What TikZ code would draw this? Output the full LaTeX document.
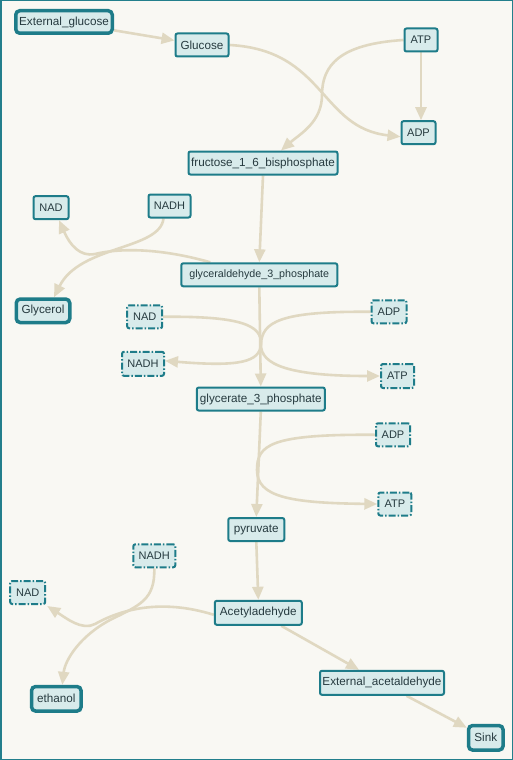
\documentclass[tikz,border=0pt]{standalone}
\usepackage{fontspec}
\setmainfont{Liberation Sans}
\usetikzlibrary{arrows.meta}
\definecolor{bgc}{HTML}{F9F8F3}
\definecolor{framec}{HTML}{237F8C}
\definecolor{fillc}{HTML}{D8EBEB}
\definecolor{bordc}{HTML}{1E7C89}
\definecolor{txtc}{HTML}{263A3F}
\definecolor{edgec}{HTML}{E0D8C1}
\pgfdeclarelayer{bg}
\pgfsetlayers{bg,main}
\tikzset{
  sz/.style 2 args={minimum width=#1pt,minimum height=#2pt},
  met/.style={rectangle,rounded corners=2pt,draw=bordc,fill=fillc,line width=2pt,
    text=txtc,inner sep=0pt,font=\fontsize{11.7}{13}\selectfont},
  extn/.style={met,line width=3.5pt,rounded corners=4pt},
  cof/.style={met,font=\fontsize{11}{13}\selectfont},
  cofd/.style={cof,dash pattern=on 7pt off 2pt on 1.5pt off 2pt},
  flow/.style={draw=edgec,line width=2.6pt,-{Triangle[length=13pt,width=11pt,fill=edgec]}},
}
\begin{document}
\begin{tikzpicture}[x=1pt,y=-1pt]
\useasboundingbox (0,0) rectangle (513,760);
% nodes
\node[extn,sz={96.5}{22.5}] (extg) at (64,22) {External\_glucose};
\node[met,sz={53}{23}] (glucose) at (202,45) {Glucose};
\node[cof,sz={33}{23}] (atp1) at (421,40) {ATP};
\node[cof,sz={34}{23}] (adp1) at (418.5,132.7) {ADP};
\node[met,sz={149}{23}] (fruct) at (263,163) {fructose\_1\_6\_bisphosphate};
\node[cof,sz={35}{23}] (nad1) at (51,207.7) {NAD};
\node[cof,sz={42}{23}] (nadh1) at (169.5,206) {NADH};
\node[met,sz={156}{23},font=\fontsize{10.7}{12}\selectfont] (glyald) at (259.3,274.8) {glyceraldehyde\_3\_phosphate};
\node[extn,sz={53.5}{23.5}] (glycerol) at (43,310.8) {Glycerol};
\node[cofd,sz={35}{23}] (nad2) at (144.7,316.8) {NAD};
\node[cofd,sz={35}{23}] (adp2) at (389,311.8) {ADP};
\node[cofd,sz={42}{24}] (nadh2) at (143,363.8) {NADH};
\node[cofd,sz={33}{24}] (atp2) at (397.5,376) {ATP};
\node[met,sz={128}{23}] (glycerate) at (260.8,399) {glycerate\_3\_phosphate};
\node[cofd,sz={34}{23}] (adp3) at (393,434.8) {ADP};
\node[cofd,sz={33}{23}] (atp3) at (394.8,504) {ATP};
\node[met,sz={56}{23}] (pyruvate) at (256.3,529.5) {pyruvate};
\node[cofd,sz={42}{23}] (nadh3) at (154.3,555.8) {NADH};
\node[cofd,sz={35}{23}] (nad3) at (27.7,592.5) {NAD};
\node[met,sz={87}{24}] (acet) at (258.3,612.8) {Acetyladehyde};
\node[met,sz={124}{24}] (extacet) at (382,682.8) {External\_acetaldehyde};
\node[extn,sz={49.5}{24.5}] (ethanol) at (56.3,698.8) {ethanol};
\node[extn,sz={34.5}{24.5}] (sink) at (485.8,737.8) {Sink};
% background and edges
\begin{pgfonlayer}{bg}
\fill[bgc] (0,0) rectangle (513,760);
\draw[framec,line width=1.5pt] (0.75,0.75) rectangle (512.25,759.25);
\path[flow] (extg) -- (glucose);
\path[flow] (glucose.east) .. controls (325,50) and (320,128) .. ([yshift=-4pt]adp1.west);
\path[flow] (atp1.west) .. controls (340,44) and (322,65) .. (322,95)
   .. controls (322,122) and (300,134) .. ([xshift=18pt]fruct.north);
\path[flow] (atp1.south) -- (atp1.south |- adp1.north);
\path[flow] (fruct.south) -- (glyald.north);
\path[flow] ([xshift=-49pt]glyald.north) .. controls (160,248) and (120,248) .. (95,254)
   .. controls (80,257) and (70,245) .. ([xshift=8pt]nad1.south);
\path[flow] ([xshift=-6pt]nadh1.south) .. controls (160,250) and (80,245) .. ([xshift=11pt]glycerol.north);
\path[flow] (glyald.south) -- (glycerate.north);
\path[flow] (nad2.east) .. controls (240,316) and (262,325) .. (261,344)
   .. controls (260,362) and (240,367) .. ([yshift=3pt]nadh2.east);
\path[flow] (adp2.west) .. controls (280,311) and (262,322) .. (261,344)
   .. controls (260,365) and (290,376) .. (atp2.west);
\path[flow] (glycerate.south) -- (pyruvate.north);
\path[flow] (adp3.west) .. controls (270,434) and (257,445) .. (257,470)
   .. controls (257,497) and (290,503) .. (atp3.west);
\path[flow] (pyruvate.south) -- (acet.north);
\path[flow] ([yshift=-2pt]acet.west) .. controls (160,598) and (120,610) .. (95,624)
   .. controls (82,631) and (66,618) .. ([xshift=1pt,yshift=-1pt]nad3.south east);
\path[flow] (nadh3.south) .. controls (155,600) and (140,605) .. (110,620)
   .. controls (80,636) and (65,660) .. ([xshift=6pt]ethanol.north);
\path[flow] (acet) -- (extacet);
\path[flow] (extacet) -- (sink);
\end{pgfonlayer}
\end{tikzpicture}
\end{document}
